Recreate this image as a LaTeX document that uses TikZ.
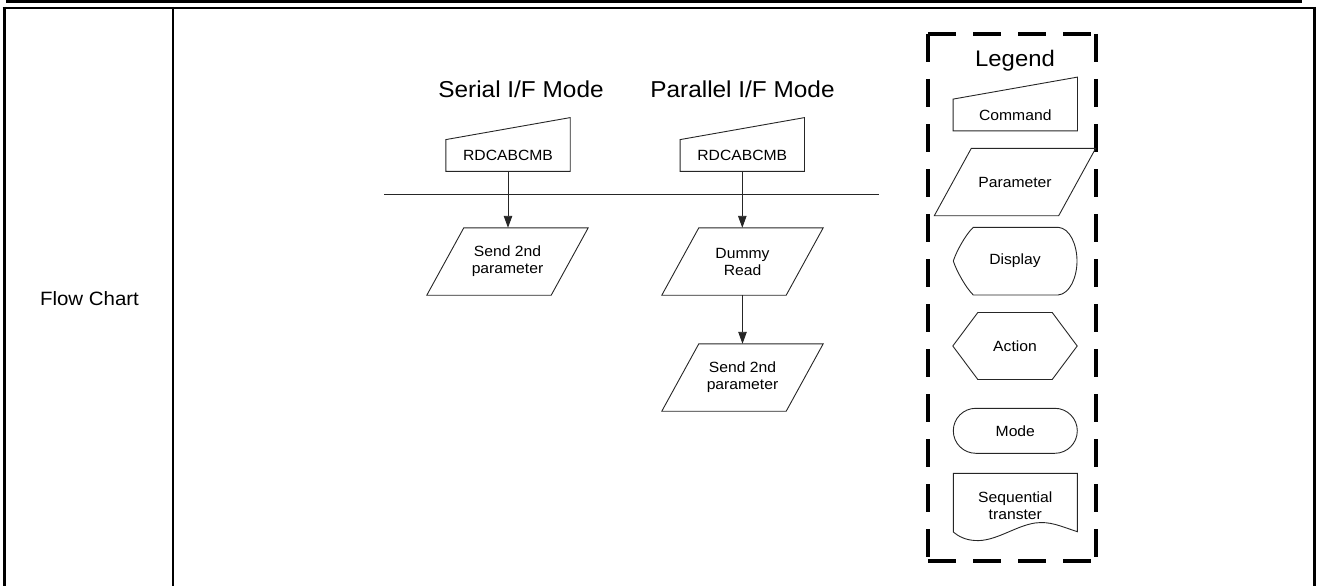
\documentclass[tikz,border=0pt]{standalone}
\usepackage{fontspec}
\setmainfont{Liberation Sans}[FakeStretch=1.06]
\usetikzlibrary{arrows.meta}
\tikzset{
  outl/.style={draw=black!85, line width=0.9pt},
  txt/.style={inner sep=0pt, align=center, text=black, font=\fontsize{14.8}{17}\selectfont},
  ttl/.style={inner sep=0pt, anchor=base, text=black, font=\fontsize{23}{27}\selectfont},
  cmdbox/.style={txt, minimum width=124pt, minimum height=31.4pt},
  parbox/.style={txt, minimum width=161pt, minimum height=67pt},
  arr/.style={outl, -{Triangle[length=12pt,width=8.5pt]}},
  dbox/.style={draw=black, line width=3.5pt, dash pattern=on 28pt off 17pt},
}
\newcommand\mkcmd[3]{%
  \node[cmdbox] (#1) at (#2) {#3};
  \draw[outl] (#1.south west) -- (#1.north west) -- ([yshift=22pt]#1.north east) -- (#1.south east) -- cycle;}
\newcommand\mkpar[3]{%
  \node[parbox] (#1) at (#2) {#3};
  \draw[outl] (#1.south west) -- ([xshift=37pt]#1.north west) -- (#1.north east) -- ([xshift=-37pt]#1.south east) -- cycle;}
\begin{document}
\begin{tikzpicture}[x=1pt,y=-1pt]
\useasboundingbox (0,0) rectangle (1317,586);
% table frame
\fill[black] (6,0) rectangle (1302,3.4);
\draw[line width=2.3pt] (2.5,8) -- (1315.8,8);
\draw[line width=3pt] (4,6.9) -- (4,586);
\draw[line width=2.3pt] (173,6.9) -- (173,586);
\draw[line width=2.7pt] (1314.5,6.9) -- (1314.5,586);
\node[inner sep=0pt, anchor=base, font=\fontsize{19.3}{23}\selectfont] (fc) at (89.5,305.7) {Flow Chart};
% titles
\node[ttl] (st) at (521,97.7) {Serial I/F Mode};
\node[ttl] (pt) at (742.5,97.7) {Parallel I/F Mode};
% commands
\mkcmd{c1}{508,155.5}{RDCABCMB}
\mkcmd{c2}{742.3,155.5}{RDCABCMB}
\draw[outl, line width=0.8pt] (384,194.3) -- (879,194.3);
% parameters
\mkpar{p1}{507.5,261.5}{Send 2nd\\parameter}
\mkpar{p2}{742.5,261.5}{Dummy\\Read}
\mkpar{p3}{742.5,377.5}{Send 2nd\\parameter}
\draw[arr] (c1.south) -- (c1.south |- p1.north);
\draw[arr] (c2.south) -- (c2.south |- p2.north);
\draw[arr] (p2.south) -- (p3.north);
% legend box
\draw[dbox] (928,34) -- (928,561);
\draw[dbox] (928,34) -- (1096,34);
\draw[dbox] (928,561) -- (1096,561);
\draw[dbox] (1096,34) -- (1096,561);
\node[ttl, font=\fontsize{22.5}{27}\selectfont] (lg) at (1015,66.7) {Legend};
\mkcmd{lc}{1015.3,115}{Command}
\mkpar{lp}{1015,182}{Parameter}
% display
\node[txt, minimum width=124pt, minimum height=68pt] (ld) at (1015,261) {Display};
\draw[outl] (953.3,261) .. controls (956.5,251) and (966,234) .. (973.3,227.3) -- (1058,227.3)
  .. controls (1070,228) and (1077,245) .. (1077,261)
  .. controls (1077,277) and (1070,294) .. (1058,295) -- (973.3,295)
  .. controls (966,288) and (956.5,271) .. (953.3,261) -- cycle;
% action
\node[txt, minimum width=124pt, minimum height=66.6pt] (la) at (1015,346) {Action};
\draw[outl] (la.west) -- ([xshift=25pt]la.north west) -- ([xshift=-25pt]la.north east) -- (la.east)
  -- ([xshift=-25pt]la.south east) -- ([xshift=25pt]la.south west) -- cycle;
% mode
\node[txt, outl, rounded corners=22.5pt, minimum width=124pt, minimum height=45pt] (lm) at (1015.3,430.8) {Mode};
% sequential transfer
\node[txt, minimum width=124pt, minimum height=40pt] (ls) at (1015.3,506) {Sequential\\transter};
\draw[outl] (953.3,532) -- (953.3,473.3) -- (1077.3,473.3) -- (1077.3,531.7)
  .. controls (1060,526) and (1050,521) .. (1035,523)
  .. controls (1015,526) and (995,542) .. (975,540.5)
  .. controls (965,540) and (958,536) .. (953.3,532) -- cycle;
\end{tikzpicture}
\end{document}
